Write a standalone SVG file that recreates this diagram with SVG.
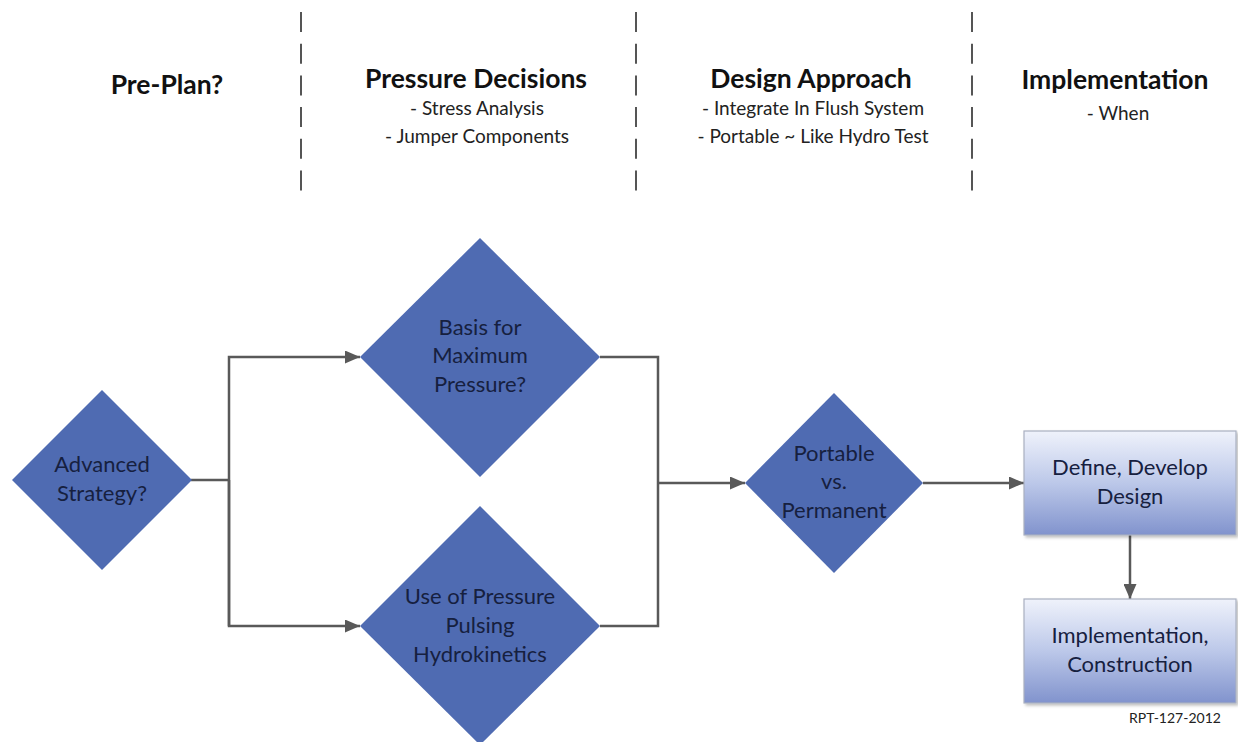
<svg xmlns="http://www.w3.org/2000/svg" width="1238" height="742" viewBox="0 0 1238 742">
  <style>
    text { font-family: Lato, "Liberation Sans", sans-serif; text-anchor: middle; }
    .hdr { font-size: 26.5px; font-weight: bold; fill: #111; }
    .sub { font-size: 19px; fill: #222; }
    .node { font-size: 22px; fill: #16203f; }
    .dia { fill: #4f6bb2; stroke: none; }
    .box { fill: url(#boxGrad); stroke: #a9b0c0; stroke-width: 1.2; }
    .sep { stroke: #555; stroke-width: 2; stroke-dasharray: 20 11.7; fill: none; }
    .conn { stroke: #595959; stroke-width: 2.5; fill: none; }
    .note { font-size: 14px; fill: #222; }
  </style>
  <defs>
    <linearGradient id="boxGrad" x1="0" y1="0" x2="0" y2="1">
      <stop offset="0" stop-color="#eff2fb"/>
      <stop offset="0.5" stop-color="#bcc8e9"/>
      <stop offset="1" stop-color="#8193cd"/>
    </linearGradient>
    <marker id="arrow" viewBox="0 0 15 13" refX="15" refY="6.5" markerWidth="15" markerHeight="13" markerUnits="userSpaceOnUse" orient="auto">
      <path d="M0,0 L15,6.5 L0,13 Z" fill="#595959"/>
    </marker>
    <filter id="shadow" x="-10%" y="-10%" width="130%" height="130%">
      <feDropShadow dx="2" dy="2" stdDeviation="1.5" flood-color="#000" flood-opacity="0.25"/>
    </filter>
  </defs>

  <rect width="1238" height="742" fill="#ffffff"/>

  <g id="separators">
    <line class="sep" x1="301" y1="12" x2="301" y2="193"/>
    <line class="sep" x1="636" y1="12" x2="636" y2="193"/>
    <line class="sep" x1="972" y1="12" x2="972" y2="193"/>
  </g>

  <g id="header-preplan">
    <text class="hdr" x="167" y="94">Pre-Plan?</text>
  </g>
  <g id="header-pressure">
    <text class="hdr" x="476" y="88">Pressure Decisions</text>
    <text class="sub" x="477" y="115">- Stress Analysis</text>
    <text class="sub" x="477" y="143">- Jumper Components</text>
  </g>
  <g id="header-design">
    <text class="hdr" x="811" y="88">Design Approach</text>
    <text class="sub" x="813" y="115">- Integrate In Flush System</text>
    <text class="sub" x="813" y="143">- Portable ~ Like Hydro Test</text>
  </g>
  <g id="header-impl">
    <text class="hdr" x="1115" y="89">Implementation</text>
    <text class="sub" x="1118" y="120">- When</text>
  </g>

  <g id="connectors">
    <polyline class="conn" points="191,480 229,480"/>
    <polyline class="conn" points="229,626 229,357 360,357" marker-end="url(#arrow)"/>
    <polyline class="conn" points="229,480 229,626 360,626" marker-end="url(#arrow)"/>
    <polyline class="conn" points="600,357 658,357 658,626 600,626"/>
    <polyline class="conn" points="658,483 745,483" marker-end="url(#arrow)"/>
    <polyline class="conn" points="923,483 1024,483" marker-end="url(#arrow)"/>
    <polyline class="conn" points="1130,535 1130,599" marker-end="url(#arrow)"/>
  </g>

  <g id="node-advanced">
    <polygon class="dia" points="102,390 192,480 102,570 12,480"/>
    <text class="node" x="102" y="472">Advanced</text>
    <text class="node" x="102" y="501">Strategy?</text>
  </g>
  <g id="node-basis">
    <polygon class="dia" points="480,238 600,357 480,477 360,357"/>
    <text class="node" x="480" y="335">Basis for</text>
    <text class="node" x="480" y="363">Maximum</text>
    <text class="node" x="480" y="392">Pressure?</text>
  </g>
  <g id="node-pulsing">
    <polygon class="dia" points="480,506 600,626 480,745 360,626"/>
    <text class="node" x="480" y="604">Use of Pressure</text>
    <text class="node" x="480" y="633">Pulsing</text>
    <text class="node" x="480" y="662">Hydrokinetics</text>
  </g>
  <g id="node-portable">
    <polygon class="dia" points="834,393 923,483 834,573 745,483"/>
    <text class="node" x="834" y="461">Portable</text>
    <text class="node" x="834" y="489">vs.</text>
    <text class="node" x="834" y="518">Permanent</text>
  </g>
  <g id="node-define">
    <rect class="box" x="1024" y="431" width="212" height="104" filter="url(#shadow)"/>
    <text class="node" x="1130" y="475">Define, Develop</text>
    <text class="node" x="1130" y="504">Design</text>
  </g>
  <g id="node-implementation">
    <rect class="box" x="1024" y="599" width="212" height="104" filter="url(#shadow)"/>
    <text class="node" x="1130" y="643">Implementation,</text>
    <text class="node" x="1130" y="672">Construction</text>
  </g>

  <text class="note" x="1175" y="723">RPT-127-2012</text>
</svg>
